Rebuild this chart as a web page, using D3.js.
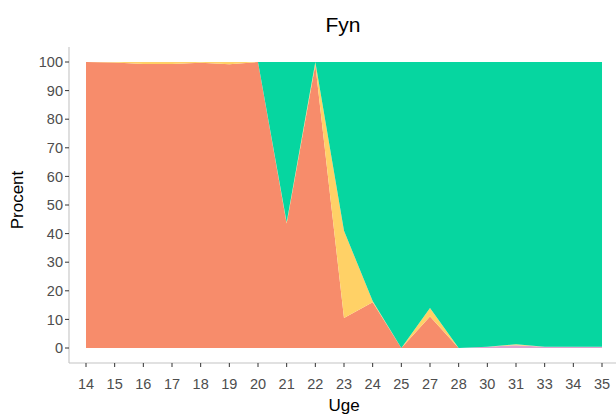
<!DOCTYPE html>
<html>
<head>
<meta charset="utf-8">
<script src="https://cdn.jsdelivr.net/npm/d3@7"></script>
<style>
  body { margin: 0; background: #fff; }
  text { font-family: "Liberation Sans", Arial, sans-serif; }
</style>
</head>
<body>
<div id="viz"></div>
<script>

/* Fyn - weekly share stacked area */

// data
const weeks  = ["14","15","16","17","18","19","20","21","22","23","24","25","27","28","30","31","33","34","35"];
const pink   = [0, 0, 0, 0, 0, 0, 0, 0, 0, 0, 0, 0, 0, 0, 0.4, 1.0, 0.4, 0.4, 0.4];
const salmon = [100, 99.8, 99.3, 99.3, 99.7, 99.2, 100, 43.5, 99, 10.5, 16, 0, 11, 0, 0, 0, 0, 0, 0];
const yellow = [0, 0.2, 0.7, 0.7, 0.3, 0.8, 0, 0.5, 1, 30.5, 0.4, 0, 3, 0, 0, 0.3, 0, 0, 0];
const green  = [0, 0, 0, 0, 0, 0, 0, 56, 0, 59, 83.6, 100, 86, 100, 99.6, 98.7, 99.6, 99.6, 99.6];
const yTicks = [0, 10, 20, 30, 40, 50, 60, 70, 80, 90, 100];

const keys   = ["pink", "salmon", "yellow", "green"];
const colors = { pink: "#dfa3cf", salmon: "#f78c6b", yellow: "#ffd166", green: "#06d6a0" };

// table for d3.stack
const rows = weeks.map((w, i) => ({ week: w, pink: pink[i], salmon: salmon[i], yellow: yellow[i], green: green[i] }));

const W = 616, H = 416;
const panel = { left: 69, right: 619, top: 47, bottom: 363 };

const svg = d3.select("#viz").append("svg")
    .attr("width", W)
    .attr("height", H);

// scales: discrete x with 0.6 expansion, y with 5% expansion
const x = d3.scalePoint(weeks, [86, 602]);
const y = d3.scaleLinear([0, 100], [348, 62]);

const stacked = d3.stack().keys(keys)(rows);

const area = d3.area()
    .x(d => x(d.data.week))
    .y0(d => y(d[0]))
    .y1(d => y(d[1]));

svg.append("g")
  .selectAll("path")
  .data(stacked)
  .join("path")
    .attr("fill", d => colors[d.key])
    .attr("d", area);

// axes
const axisCol = "#c4c4c4";
const tickCol = "#333333";
const labCol  = "#4d4d4d";

// y axis
svg.append("line")
    .attr("x1", panel.left).attr("x2", panel.left)
    .attr("y1", panel.top).attr("y2", panel.bottom)
    .attr("stroke", axisCol).attr("stroke-width", 1.1);

const yg = svg.append("g");
yg.selectAll("line")
  .data(yTicks)
  .join("line")
    .attr("x1", panel.left - 4).attr("x2", panel.left)
    .attr("y1", d => y(d)).attr("y2", d => y(d))
    .attr("stroke", tickCol).attr("stroke-width", 1);
yg.selectAll("text")
  .data(yTicks)
  .join("text")
    .attr("x", panel.left - 6)
    .attr("y", d => y(d))
    .attr("dy", "0.36em")
    .attr("text-anchor", "end")
    .attr("font-size", 14.5)
    .attr("fill", labCol)
    .text(d => d);

// x axis
svg.append("line")
    .attr("x1", panel.left).attr("x2", panel.right)
    .attr("y1", panel.bottom).attr("y2", panel.bottom)
    .attr("stroke", axisCol).attr("stroke-width", 1.1);

const xg = svg.append("g");
xg.selectAll("line")
  .data(weeks)
  .join("line")
    .attr("x1", d => x(d)).attr("x2", d => x(d))
    .attr("y1", panel.bottom).attr("y2", panel.bottom + 4)
    .attr("stroke", tickCol).attr("stroke-width", 1);
xg.selectAll("text")
  .data(weeks)
  .join("text")
    .attr("x", d => x(d))
    .attr("y", 389)
    .attr("text-anchor", "middle")
    .attr("font-size", 14.5)
    .attr("fill", labCol)
    .text(d => d);

// titles
svg.append("text")
    .attr("x", 343).attr("y", 32)
    .attr("text-anchor", "middle")
    .attr("font-size", 21)
    .attr("fill", "#000")
    .text("Fyn");

svg.append("text")
    .attr("x", 344).attr("y", 411)
    .attr("text-anchor", "middle")
    .attr("font-size", 17)
    .attr("fill", "#000")
    .text("Uge");

svg.append("text")
    .attr("transform", "translate(23,200) rotate(-90)")
    .attr("text-anchor", "middle")
    .attr("font-size", 17)
    .attr("fill", "#000")
    .text("Procent");

</script>
</body>
</html>
